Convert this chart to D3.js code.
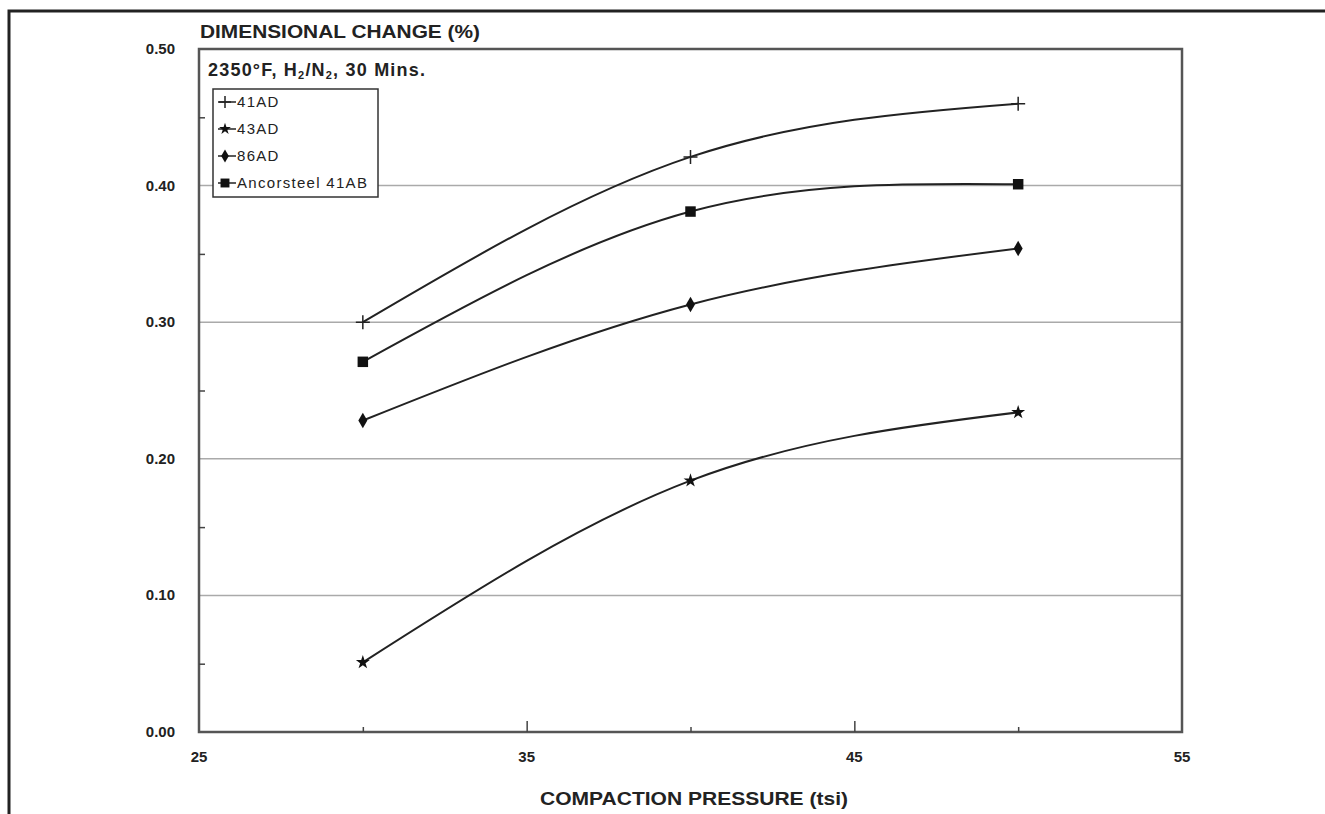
<!DOCTYPE html>
<html>
<head>
<meta charset="utf-8">
<script src="https://cdn.jsdelivr.net/npm/d3@7"></script>
<style>
  body { margin: 0; background: #fff; }
  text { font-family: "Liberation Sans", Arial, sans-serif; fill: #222; }
</style>
</head>
<body>
<div id="chart"></div>
<script>
// compaction pressure (tsi)
const pressures = [30, 40, 50];
const seriesNames = ["41AD", "43AD", "86AD", "Ancorsteel 41AB"];
// dimensional change (%) per series
const v41AD = [0.300, 0.421, 0.460];
const v43AD = [0.051, 0.184, 0.234];
const v86AD = [0.228, 0.313, 0.354];
const v41AB = [0.271, 0.381, 0.401];
const yTicks = [0, 0.1, 0.2, 0.3, 0.4, 0.5];
const xTicks = [25, 35, 45, 55];

const width = 1325;
const height = 814;
const margin = { top: 49, right: 143, bottom: 82, left: 199 };

const svg = d3.select("#chart")
    .append("svg")
    .attr("width", width)
    .attr("height", height);

// outer frame of the scanned page
svg.append("path")
    .attr("d", `M9,${height} V11 H${width}`)
    .attr("fill", "none")
    .attr("stroke", "#222")
    .attr("stroke-width", 3);

const xScale = d3.scaleLinear()
    .domain([25, 55])
    .range([margin.left, width - margin.right]);

const yScale = d3.scaleLinear()
    .domain([0, 0.5])
    .range([height - margin.bottom, margin.top]);

// grid lines
svg.selectAll("line.grid")
    .data([0.1, 0.2, 0.3, 0.4])
    .enter()
    .append("line")
    .attr("x1", margin.left)
    .attr("x2", width - margin.right)
    .attr("y1", d => yScale(d))
    .attr("y2", d => yScale(d))
    .attr("stroke", "#aaa")
    .attr("stroke-width", 1.5);

// plot box
svg.append("rect")
    .attr("x", margin.left)
    .attr("y", margin.top)
    .attr("width", width - margin.right - margin.left)
    .attr("height", height - margin.bottom - margin.top)
    .attr("fill", "none")
    .attr("stroke", "#555")
    .attr("stroke-width", 2.5);

// y axis: labels at 0.1, minor ticks at 0.05
const yAxis = svg.append("g")
    .attr("transform", `translate(${margin.left},0)`)
    .call(d3.axisRight(yScale).tickValues(d3.range(0.05, 0.5, 0.1)).tickSize(6).tickFormat(""));
yAxis.select(".domain").remove();
yAxis.selectAll("line").attr("stroke", "#444").attr("stroke-width", 1.5);

svg.selectAll("text.ylab")
    .data(yTicks)
    .enter()
    .append("text")
    .attr("x", margin.left - 24)
    .attr("y", d => yScale(d) + 5)
    .attr("text-anchor", "end")
    .attr("font-size", 15)
    .attr("font-weight", "bold")
    .attr("fill", "#333")
    .text(d => d.toFixed(2));

// x axis: major ticks at 35/45, minor at 30/40/50
const xMajor = svg.append("g")
    .attr("transform", `translate(0,${height - margin.bottom})`)
    .call(d3.axisTop(xScale).tickValues([35, 45]).tickSize(11).tickFormat(""));
xMajor.select(".domain").remove();
const xMinor = svg.append("g")
    .attr("transform", `translate(0,${height - margin.bottom})`)
    .call(d3.axisTop(xScale).tickValues(pressures).tickSize(5).tickFormat(""));
xMinor.select(".domain").remove();
svg.selectAll("g.tick line").attr("stroke", "#444").attr("stroke-width", 1.5);

svg.selectAll("text.xlab")
    .data(xTicks)
    .enter()
    .append("text")
    .attr("x", d => xScale(d))
    .attr("y", height - margin.bottom + 30)
    .attr("text-anchor", "middle")
    .attr("font-size", 15)
    .attr("font-weight", "bold")
    .attr("fill", "#333")
    .text(d => d);

// titles
svg.append("text")
    .attr("x", margin.left + 1)
    .attr("y", 38)
    .attr("font-size", 18)
    .attr("font-weight", "bold")
    .attr("textLength", 280)
    .attr("lengthAdjust", "spacingAndGlyphs")
    .text("DIMENSIONAL CHANGE (%)");

svg.append("text")
    .attr("x", 540)
    .attr("y", 805)
    .attr("font-size", 18)
    .attr("font-weight", "bold")
    .attr("textLength", 308)
    .attr("lengthAdjust", "spacingAndGlyphs")
    .text("COMPACTION PRESSURE (tsi)");

svg.append("text")
    .attr("x", 208)
    .attr("y", 76)
    .attr("font-size", 18)
    .attr("letter-spacing", 1.2)
    .attr("font-weight", "bold")
    .html('2350°F, H<tspan font-size="11" dy="3">2</tspan><tspan dy="-3">/N</tspan><tspan font-size="11" dy="3">2</tspan><tspan dy="-3">, 30 Mins.</tspan>');

// series
const series = [
    { name: seriesNames[0], values: v41AD, symbol: d3.symbolCross, size: 0, plus: true },
    { name: seriesNames[1], values: v43AD, symbol: d3.symbolStar, size: 60 },
    { name: seriesNames[2], values: v86AD, symbol: d3.symbolDiamond, size: 70 },
    { name: seriesNames[3], values: v41AB, symbol: d3.symbolSquare, size: 110 }
];

const line = d3.line()
    .x((d, i) => xScale(pressures[i]))
    .y(d => yScale(d))
    .curve(d3.curveNatural);

function drawMarker(g, s, x, y, scale) {
    if (s.plus) {
        const r = 7 * scale;
        g.append("path")
            .attr("d", `M${x - r},${y} H${x + r} M${x},${y - r} V${y + r}`)
            .attr("stroke", "#222")
            .attr("stroke-width", 1.5);
    } else {
        g.append("path")
            .attr("transform", `translate(${x},${y})`)
            .attr("d", d3.symbol().type(s.symbol).size(s.size * scale * scale)())
            .attr("fill", "#111");
    }
}

series.forEach(s => {
    svg.append("path")
        .datum(s.values)
        .attr("d", line)
        .attr("fill", "none")
        .attr("stroke", "#222")
        .attr("stroke-width", 2);
    s.values.forEach((v, i) => drawMarker(svg, s, xScale(pressures[i]), yScale(v), 1));
});

// legend
const legend = svg.append("g");
legend.append("rect")
    .attr("x", 213)
    .attr("y", 89)
    .attr("width", 165)
    .attr("height", 108)
    .attr("fill", "#fff")
    .attr("stroke", "#333")
    .attr("stroke-width", 1.5);

series.forEach((s, i) => {
    const y = 102 + i * 27;
    legend.append("line")
        .attr("x1", 218).attr("x2", 236)
        .attr("y1", y).attr("y2", y)
        .attr("stroke", "#222")
        .attr("stroke-width", 1.5);
    drawMarker(legend, s, 225, y, 0.85);
    legend.append("text")
        .attr("x", 237)
        .attr("y", y + 5)
        .attr("font-size", 15)
        .attr("letter-spacing", 1.3)
        .text(s.name);
});
</script>
</body>
</html>
